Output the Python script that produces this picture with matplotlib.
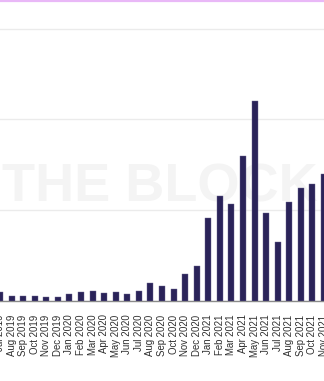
import matplotlib
matplotlib.use("Agg")
import numpy as np
from matplotlib import pyplot as plt
from matplotlib.lines import Line2D

months = ["Jul 2019", "Aug 2019", "Sep 2019", "Oct 2019", "Nov 2019", "Dec 2019",
          "Jan 2020", "Feb 2020", "Mar 2020", "Apr 2020", "May 2020", "Jun 2020",
          "Jul 2020", "Aug 2020", "Sep 2020", "Oct 2020", "Nov 2020", "Dec 2020",
          "Jan 2021", "Feb 2021", "Mar 2021", "Apr 2021", "May 2021", "Jun 2021",
          "Jul 2021", "Aug 2021", "Sep 2021", "Oct 2021", "Nov 2021"]
values = [9.4, 5.3, 5.3, 5.3, 3.9, 3.9,
          6.9, 9.4, 10.8, 8.1, 9.4, 6.9,
          10.8, 19.0, 16.4, 12.4, 29.0, 38.5,
          91.2, 115.8, 106.3, 160.0, 220.8, 96.7,
          64.6, 108.8, 124.0, 128.4, 139.4]
grid_ticks = [0, 100, 200, 300]

fig = plt.figure(figsize=(3.24, 3.81), dpi=100)
ax = fig.add_axes([0, 80.5 / 381, 1, 300.5 / 381])
ax.set_zorder(2)

# filigrane (derriere les barres)
fig.text(0.494, 0.508, "THE BLOCK", fontsize=39, fontweight="bold",
         family="Liberation Sans", color="#f4f4f4", ha="center", va="center", zorder=0)

x = np.arange(len(months))
ax.bar(x, values, width=0.53, color="#2a2359", edgecolor="#6a6590", linewidth=0.3, zorder=3)

ax.set_xlim(0.205, 27.83)
ax.set_ylim(0, 332)
ax.set_yticks(grid_ticks)
ax.yaxis.grid(True, color="#ebebeb", linewidth=1)
ax.set_axisbelow(True)
ax.tick_params(axis="y", left=False, labelleft=False)
ax.set_xticks(x)
ax.set_xticklabels(months, rotation=90, fontsize=6.9, family="Liberation Sans", color="#2e2e2e")
ax.tick_params(axis="x", length=0, pad=10)
for s in ["top", "left", "right"]:
    ax.spines[s].set_visible(False)
ax.spines["bottom"].set_color("#8a8a8a")
ax.spines["bottom"].set_linewidth(1)
ax.patch.set_alpha(0)

# ligne rose en haut
fig.add_artist(Line2D([0, 1], [0.9985, 0.9985], color="#e9b8f7", linewidth=1.6))

fig.savefig("out.png", dpi=100)
